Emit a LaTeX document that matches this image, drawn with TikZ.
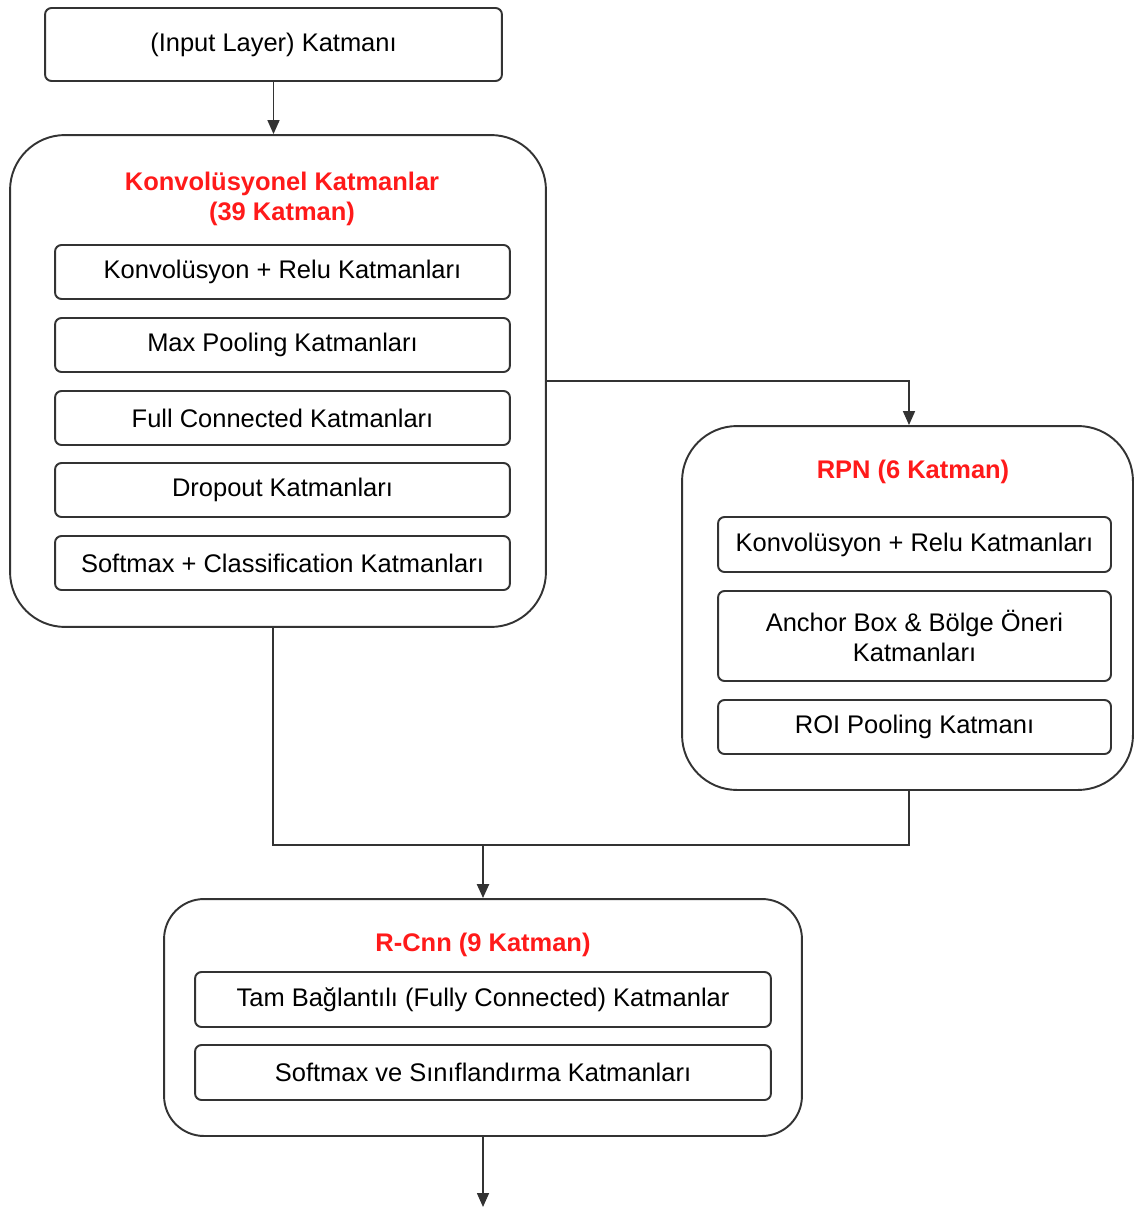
\documentclass[tikz,border=0pt]{standalone}
\usepackage{fontspec}
\setmainfont{Liberation Sans}
\usetikzlibrary{arrows.meta}

\definecolor{cline}{HTML}{333333}
\definecolor{ctitle}{HTML}{FF1A1A}

\tikzset{
  layerbox/.style={draw=cline, line width=1.1pt, rounded corners=0.13cm, align=center,
    font=\fontsize{14.5}{17.5}\selectfont, inner sep=0pt},
  groupbox/.style={draw=cline, line width=1.1pt, rounded corners=1.1cm, inner sep=0pt},
  grouptitle/.style={text=ctitle, font=\fontsize{14.5}{17.5}\selectfont\bfseries, align=center},
  flow/.style={draw=cline, line width=0.9pt, -{Triangle[length=0.28cm, width=0.24cm]}},
  link/.style={draw=cline, line width=0.9pt}
}

\begin{document}
\begin{tikzpicture}[x=0.02cm, y=-0.02cm]

	\useasboundingbox (0,0) rectangle (1134,1209);

	% Giris
	\node[layerbox, minimum width=9.14cm, minimum height=1.46cm] (inp) at (273.5,44.5) {(Input Layer) Katmanı};

	% Konvolusyonel katmanlar
	\node[groupbox, minimum width=10.72cm, minimum height=9.84cm] (conv) at (278,381) {};
	\node[grouptitle] (convt) at (282,199) {Konvolüsyonel Katmanlar\\(39 Katman)};
	\node[layerbox, minimum width=9.1cm, minimum height=1.08cm] (c1) at (282.5,272) {Konvolüsyon + Relu Katmanları};
	\node[layerbox, minimum width=9.1cm, minimum height=1.08cm] (c2) at (282.5,345) {Max Pooling Katmanları};
	\node[layerbox, minimum width=9.1cm, minimum height=1.08cm] (c3) at (282.5,418) {Full Connected Katmanları};
	\node[layerbox, minimum width=9.1cm, minimum height=1.08cm] (c4) at (282.5,490) {Dropout Katmanları};
	\node[layerbox, minimum width=9.1cm, minimum height=1.08cm] (c5) at (282.5,563) {Softmax + Classification Katmanları};

	% RPN
	\node[groupbox, minimum width=9.02cm, minimum height=7.28cm] (rpn) at (907.5,608) {};
	\node[grouptitle] (rpnt) at (913,472) {RPN (6 Katman)};
	\node[layerbox, minimum width=7.86cm, minimum height=1.1cm] (r1) at (914.5,544.5) {Konvolüsyon + Relu Katmanları};
	\node[layerbox, minimum width=7.86cm, minimum height=1.8cm] (r2) at (914.5,636) {Anchor Box \& Bölge Öneri\\Katmanları};
	\node[layerbox, minimum width=7.86cm, minimum height=1.08cm] (r3) at (914.5,727) {ROI Pooling Katmanı};

	% R-Cnn
	\node[groupbox, rounded corners=0.8cm, minimum width=12.76cm, minimum height=4.74cm] (rcnn) at (483,1017.5) {};
	\node[grouptitle] (rcnnt) at (483,945) {R-Cnn (9 Katman)};
	\node[layerbox, minimum width=11.52cm, minimum height=1.1cm] (n1) at (483,999.5) {Tam Bağlantılı (Fully Connected) Katmanlar};
	\node[layerbox, minimum width=11.52cm, minimum height=1.1cm] (n2) at (483,1072.5) {Softmax ve Sınıflandırma Katmanları};

	\coordinate (mrg) at (483,845);
	\coordinate (out) at (483,1207);

	% baglantilar
	\draw[flow] (inp.south) -- (conv.north -| inp.south);
	\draw[flow] (conv.east) -| ([xshift=0.03cm]rpn.north);
	\draw[link] ([xshift=-0.1cm]conv.south) |- (mrg) -| ([xshift=0.03cm]rpn.south);
	\draw[flow, line width=1.3pt] (mrg) -- (rcnn.north);
	\draw[flow] (rcnn.south) -- (out);

\end{tikzpicture}
\end{document}
